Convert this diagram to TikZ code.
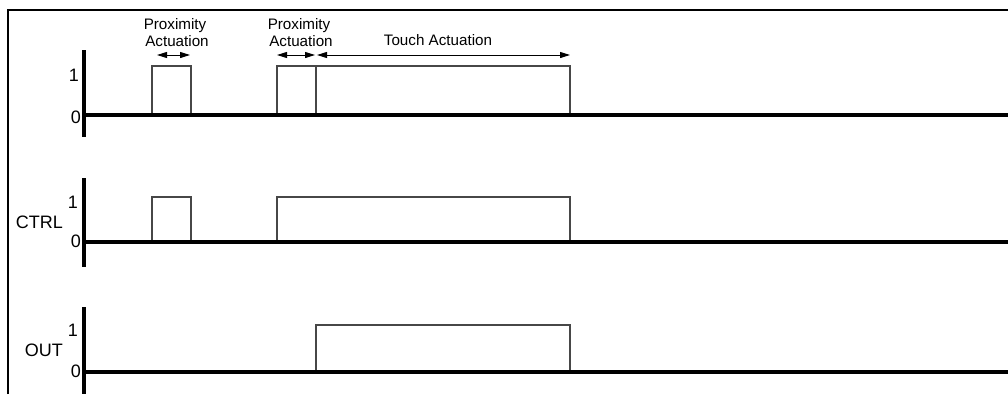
\documentclass[tikz,border=0pt]{standalone}
\usepackage{fontspec}
\setmainfont{Liberation Sans}
\usetikzlibrary{arrows.meta}
\begin{document}
\begin{tikzpicture}[x=1pt,y=-1pt,
  axis/.style={line width=3.2pt,black},
  pulse/.style={line width=1.2pt,black!72},
  frame/.style={line width=2pt,black},
  dim/.style={line width=1pt,{Triangle[length=10pt,width=6pt]}-{Triangle[length=10pt,width=6pt]}},
  ann/.style={font=\fontsize{15.2}{17}\selectfont,align=center,inner sep=0pt},
  lab/.style={font=\fontsize{18}{20}\selectfont,inner sep=0pt}]
\useasboundingbox (0,0) rectangle (1008,394);
\draw[frame] (8,394) -- (8,10) -- (1008,10);

% ---------- row 1 ----------
\draw[pulse] (152,115) -- (152,66) -- (191,66) -- (191,115);
\draw[pulse] (277,115) -- (277,66) -- (570,66) -- (570,115);
\draw[pulse] (316,66) -- (316,115);
\draw[axis] (84,50) -- (84,137);
\draw[axis] (84,115) -- (1008,115);
\node[lab,anchor=east] (r1one) at (79,75) {1};
\node[lab,anchor=east] (r1zero) at (81,117) {0};

\node[ann,anchor=base] (pa1) at (175,29) {Proximity};
\node[ann,anchor=base] (pa1b) at (177,46) {Actuation};
\node[ann,anchor=base] (pa2) at (299,29) {Proximity};
\node[ann,anchor=base] (pa2b) at (301,46) {Actuation};
\node[ann,anchor=base] (ta) at (438,45) {Touch Actuation};

\coordinate (a1l) at (157,55);
\coordinate (a1r) at (190,55);
\coordinate (a2l) at (277,55);
\coordinate (a2r) at (315,55);
\coordinate (a3l) at (317,55);
\coordinate (a3r) at (570,55);
\draw[dim] (a1l) -- (a1r);
\draw[dim] (a2l) -- (a2r);
\draw[dim] (a3l) -- (a3r);

% ---------- row 2 ----------
\draw[pulse] (152,242) -- (152,197) -- (191,197) -- (191,242);
\draw[pulse] (277,242) -- (277,197) -- (570,197) -- (570,242);
\draw[axis] (84,178) -- (84,267);
\draw[axis] (84,242) -- (1008,242);
\node[lab,anchor=east] (r2one) at (78,202) {1};
\node[lab,anchor=east] (r2zero) at (81,241) {0};
\node[lab,anchor=east] (ctrl) at (63,222) {CTRL};

% ---------- row 3 ----------
\draw[pulse] (316,372) -- (316,325) -- (570,325) -- (570,372);
\draw[axis] (84,307) -- (84,394);
\draw[axis] (84,372) -- (1008,372);
\node[lab,anchor=east] (r3one) at (78,330) {1};
\node[lab,anchor=east] (r3zero) at (81,371) {0};
\node[lab,anchor=east] (out) at (63,350) {OUT};
\end{tikzpicture}
\end{document}
